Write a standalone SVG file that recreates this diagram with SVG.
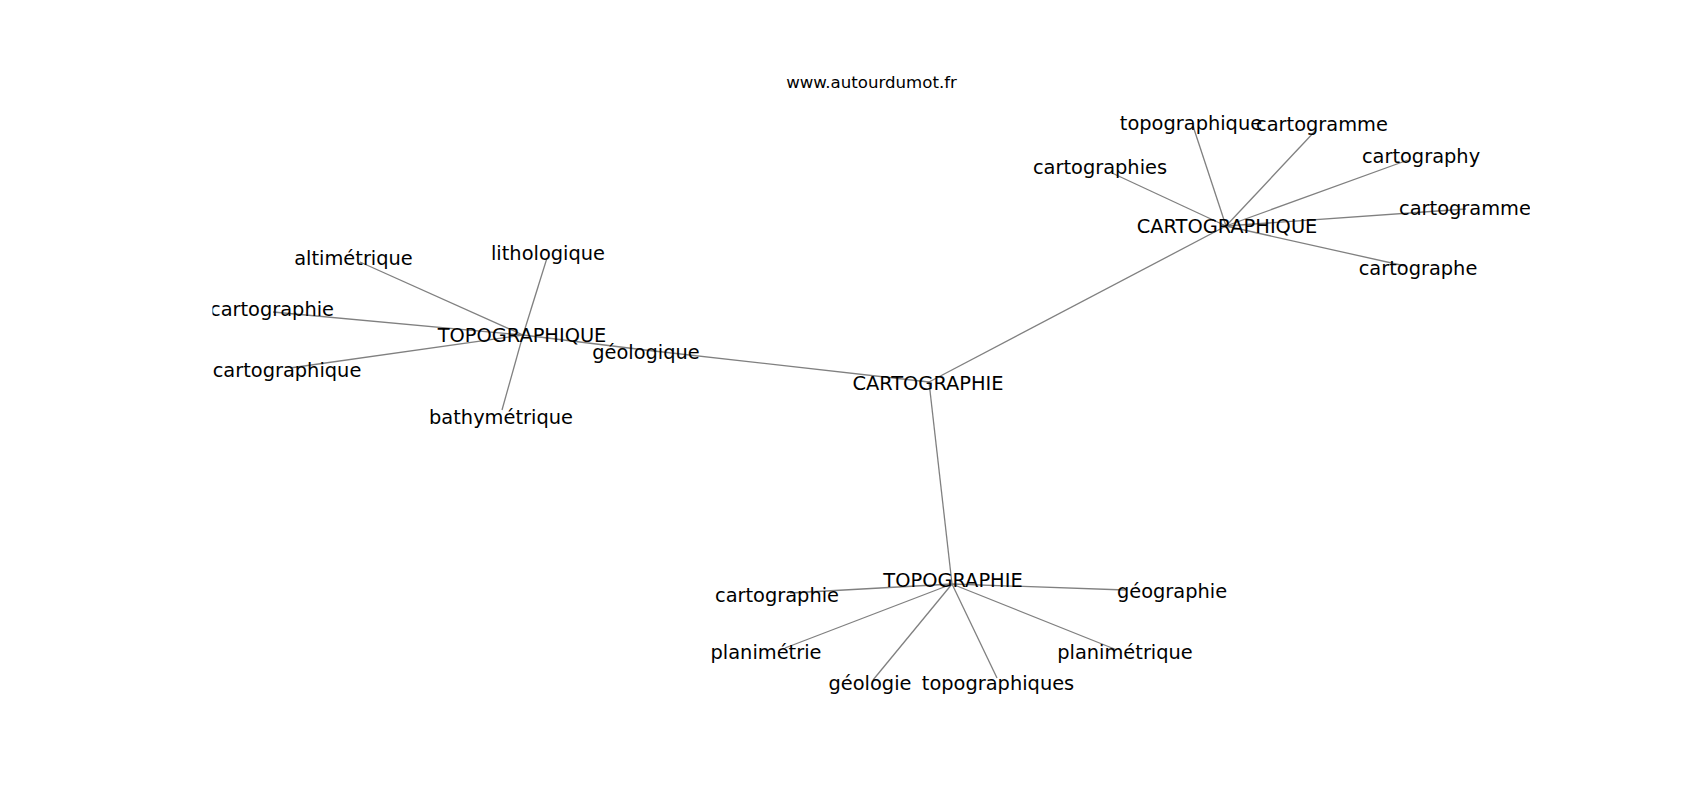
<svg xmlns="http://www.w3.org/2000/svg" width="1700" height="800" viewBox="0 0 1700 800">
<style>
.e{stroke:#808080;stroke-width:1.3;fill:none}
.n{font-family:"DejaVu Sans",sans-serif;font-size:19.4px;fill:#000;text-anchor:middle}
.t{font-family:"DejaVu Sans",sans-serif;font-size:16.6px;fill:#000;text-anchor:middle}
</style>
<defs><clipPath id="ax"><rect x="212.5" y="96" width="1317.5" height="616"/></clipPath></defs>
<rect width="1700" height="800" fill="#fff"/>
<text class="t" x="871.5" y="88">www.autourdumot.fr</text>
<g id="edges" clip-path="url(#ax)">
<line class="e" x1="929" y1="382" x2="645" y2="350"/>
<line class="e" x1="929" y1="382" x2="1226" y2="226"/>
<line class="e" x1="929" y1="382" x2="952" y2="584"/>
<line class="e" x1="523" y1="335" x2="645" y2="350"/>
<line class="e" x1="523" y1="335" x2="360" y2="262"/>
<line class="e" x1="523" y1="335" x2="547" y2="258"/>
<line class="e" x1="523" y1="335" x2="273" y2="312"/>
<line class="e" x1="523" y1="335" x2="290" y2="368"/>
<line class="e" x1="523" y1="335" x2="502" y2="410"/>
<line class="e" x1="1226" y1="226" x2="1193" y2="126"/>
<line class="e" x1="1226" y1="226" x2="1316" y2="130"/>
<line class="e" x1="1226" y1="226" x2="1408" y2="160"/>
<line class="e" x1="1226" y1="226" x2="1112" y2="173"/>
<line class="e" x1="1226" y1="226" x2="1466" y2="209"/>
<line class="e" x1="1226" y1="226" x2="1405" y2="266"/>
<line class="e" x1="952" y1="584" x2="790" y2="593"/>
<line class="e" x1="952" y1="584" x2="1125" y2="590"/>
<line class="e" x1="952" y1="584" x2="785" y2="648"/>
<line class="e" x1="952" y1="584" x2="873" y2="680"/>
<line class="e" x1="952" y1="584" x2="997" y2="678"/>
<line class="e" x1="952" y1="584" x2="1117" y2="650"/>
</g>
<g clip-path="url(#ax)">
<g id="n-CARTOGRAPHIE"><text class="n" x="928" y="390">CARTOGRAPHIE</text></g>
<g id="n-CARTOGRAPHIQUE"><text class="n" x="1227" y="233">CARTOGRAPHIQUE</text></g>
<g id="n-TOPOGRAPHIQUE"><text class="n" x="522" y="342">TOPOGRAPHIQUE</text></g>
<g id="n-TOPOGRAPHIE"><text class="n" x="953" y="587">TOPOGRAPHIE</text></g>
<g id="n-geologique"><text class="n" x="646" y="359">géologique</text></g>
<g id="n-altimetrique"><text class="n" x="353.5" y="265">altimétrique</text></g>
<g id="n-lithologique"><text class="n" x="548" y="260">lithologique</text></g>
<g id="n-cartographie-l"><text class="n" x="272" y="316">cartographie</text></g>
<g id="n-cartographique"><text class="n" x="287" y="377">cartographique</text></g>
<g id="n-bathymetrique"><text class="n" x="501" y="424">bathymétrique</text></g>
<g id="n-topographique"><text class="n" x="1191" y="130">topographique</text></g>
<g id="n-cartogramme-t"><text class="n" x="1322" y="131">cartogramme</text></g>
<g id="n-cartography"><text class="n" x="1421" y="163">cartography</text></g>
<g id="n-cartographies"><text class="n" x="1100" y="174">cartographies</text></g>
<g id="n-cartogramme-r"><text class="n" x="1465" y="215">cartogramme</text></g>
<g id="n-cartographe"><text class="n" x="1418" y="275">cartographe</text></g>
<g id="n-cartographie-b"><text class="n" x="777" y="602">cartographie</text></g>
<g id="n-geographie"><text class="n" x="1172" y="598">géographie</text></g>
<g id="n-planimetrie"><text class="n" x="766" y="659">planimétrie</text></g>
<g id="n-geologie"><text class="n" x="870" y="690">géologie</text></g>
<g id="n-topographiques"><text class="n" x="998" y="690">topographiques</text></g>
<g id="n-planimetrique"><text class="n" x="1125" y="659">planimétrique</text></g>
</g>
</svg>
